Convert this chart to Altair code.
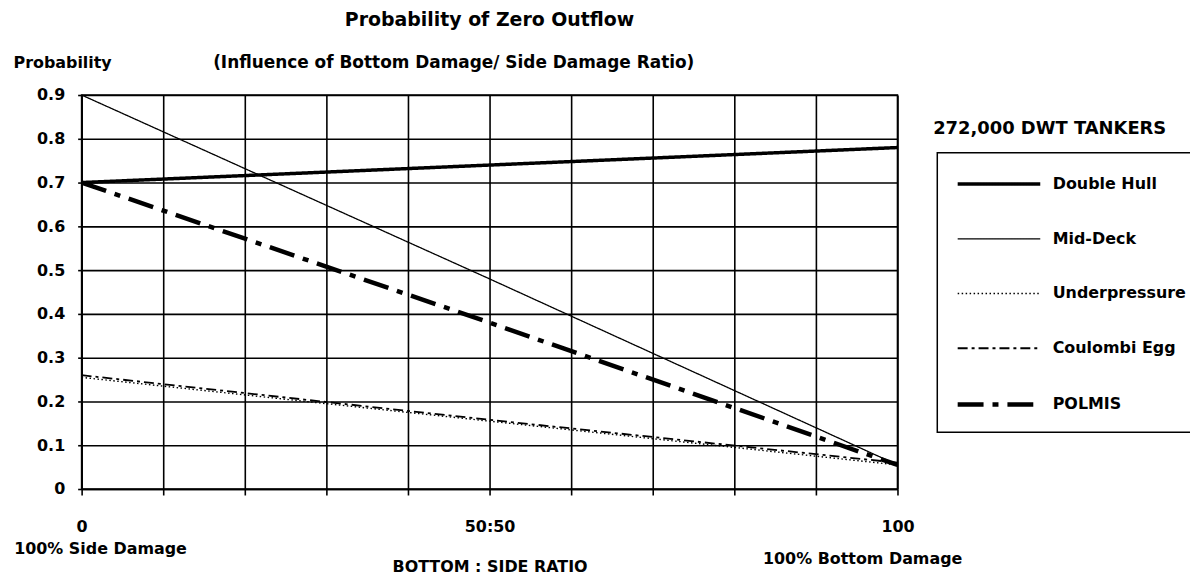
import altair as alt
import pandas as pd

series = ["Double Hull", "Mid-Deck", "Underpressure", "Coulombi Egg", "POLMIS"]
ratio = [0, 50, 100]
double_hull = [0.70, 0.74, 0.78]
mid_deck = [0.90, 0.48, 0.055]
underpressure = [0.255, 0.155, 0.055]
coulombi_egg = [0.26, 0.158, 0.06]
polmis = [0.70, 0.38, 0.055]

x_ticks = [0, 10, 20, 30, 40, 50, 60, 70, 80, 90, 100]
y_ticks = [0, 0.1, 0.2, 0.3, 0.4, 0.5, 0.6, 0.7, 0.8, 0.9]

rows = []
for name, vals in zip(series, [double_hull, mid_deck, underpressure, coulombi_egg, polmis]):
    for r, v in zip(ratio, vals):
        rows.append({"series": name, "ratio": r, "prob": v})
df = pd.DataFrame(rows)

FONT = "DejaVu Sans"

dash_range = [[1, 0], [1, 0], [1.5, 2.5], [10, 4, 3, 4], [26, 9, 6, 9]]
width_range = [3.5, 1.3, 1.4, 1.8, 4.5]

legend = alt.Legend(
    orient="none", legendX=860, legendY=28, title=None,
    symbolType="stroke", symbolSize=6889, symbolStrokeColor="black",
    labelFont=FONT, labelFontSize=16, labelFontWeight="bold", labelColor="black",
    padding=18, rowPadding=4, labelOffset=10,
)

lines = alt.Chart(df).mark_line(color="black", strokeCap="butt").encode(
    x=alt.X("ratio:Q", scale=alt.Scale(domain=[0, 100], nice=False),
            axis=alt.Axis(values=x_ticks, title="BOTTOM : SIDE RATIO",
                          labelExpr="datum.value == 50 ? '50:50' : (datum.value == 0 || datum.value == 100 ? datum.label : '')",
                          labelOverlap=False, labelFlush=False, labelPadding=24, tickSize=6,
                          titleY=78, titleBaseline="middle")),
    y=alt.Y("prob:Q", scale=alt.Scale(domain=[0, 0.9], nice=False),
            axis=alt.Axis(values=y_ticks, title="Probability",
                          labelExpr="datum.value == 0 ? '0' : format(datum.value, '.1f')",
                          titleAngle=0, titleAlign="left", titleX=-69, titleY=-28,
                          titleBaseline="alphabetic", labelPadding=13, tickSize=4)),
    strokeDash=alt.StrokeDash("series:N", sort=series,
                              scale=alt.Scale(type="ordinal", domain=series, range=dash_range),
                              legend=legend),
    strokeWidth=alt.StrokeWidth("series:N", sort=series,
                                scale=alt.Scale(type="ordinal", domain=series, range=width_range),
                                legend=legend),
    detail="series:N",
)

one = pd.DataFrame({"k": [0]})

def note(txt, x, y, size=16, align="center"):
    return alt.Chart(one).mark_text(
        text=txt, font=FONT, fontSize=size, fontWeight="bold", color="black",
        align=align, baseline="middle"
    ).encode(x=alt.value(x), y=alt.value(y))

legend_box = alt.Chart(one).mark_rect(fill="white", stroke="black", strokeWidth=1.5).encode(
    x=alt.value(860), x2=alt.value(1125), y=alt.value(58), y2=alt.value(339)
)

subtitle = note("(Influence of Bottom Damage/ Side Damage Ratio)", 374, -32, size=17)
tankers = note("272,000 DWT TANKERS", 973, 34, size=18)
side = note("100% Side Damage", 19, 456)
bottom = note("100% Bottom Damage", 785, 466)

chart = alt.layer(legend_box, lines, subtitle, tankers, side, bottom).properties(
    width=820, height=396,
    title=alt.TitleParams("Probability of Zero Outflow", font=FONT, fontSize=19,
                          fontWeight="bold", color="black", anchor="middle",
                          frame="group", offset=24),
    autosize=alt.AutoSizeParams(type="none"),
    padding={"left": 74, "top": 86, "right": 294, "bottom": 93},
    background="white",
).configure_axis(
    grid=True, gridColor="black", gridWidth=1.6, gridOpacity=1,
    domainColor="black", domainWidth=1.6, tickColor="black", tickWidth=1.6,
    labelFont=FONT, labelFontSize=16, labelFontWeight="bold", labelColor="black",
    titleFont=FONT, titleFontSize=16, titleFontWeight="bold", titleColor="black",
).configure_view(stroke="black", strokeWidth=1.6)

chart.save("out.html", embed_options={"renderer": "svg", "actions": False})
